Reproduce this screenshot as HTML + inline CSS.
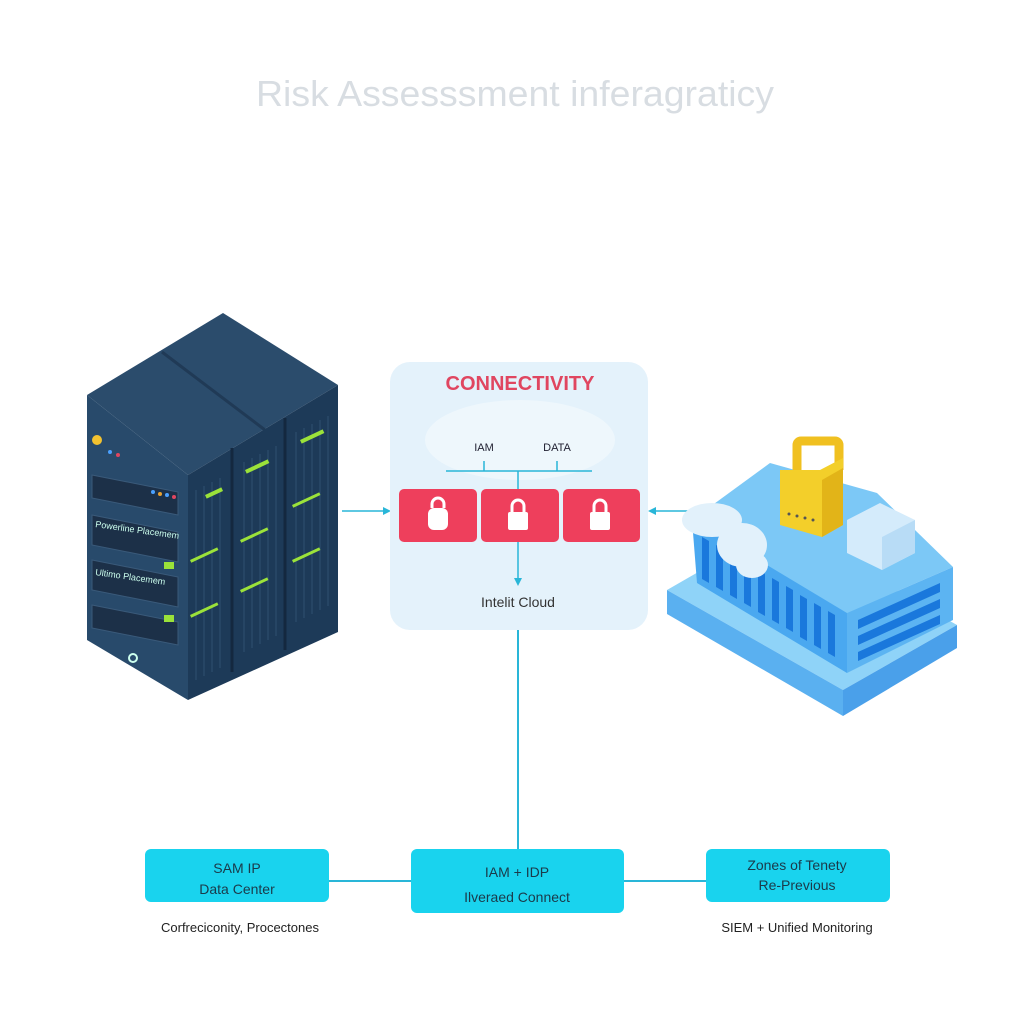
<!DOCTYPE html>
<html><head><style>
body{margin:0;background:#fff;}
svg{display:block;font-family:"Liberation Sans",sans-serif;}
</style></head><body>
<svg width="1024" height="1024" viewBox="0 0 1024 1024">
<rect width="1024" height="1024" fill="#fff"/>
<text x="256" y="106" font-size="36" fill="#d8dde2" textLength="518" lengthAdjust="spacingAndGlyphs">Risk Assesssment inferagraticy</text>

<!-- server rack -->
<polygon points="87,395 223,313 338,385 188,475" fill="#2b4c6c"/>
<line x1="162" y1="352" x2="265" y2="430" stroke="#203a56" stroke-width="3"/>
<polygon points="87,395 188,475 188,700 87,640" fill="#284a6b"/>
<polygon points="188,475 338,385 338,632 188,700" fill="#1d3a58"/>
<line x1="232" y1="448" x2="232" y2="672" stroke="#14283f" stroke-width="3"/>
<line x1="285" y1="418" x2="285" y2="650" stroke="#14283f" stroke-width="3"/>
<g stroke="#2e5070" stroke-width="1">
<path d="M196 490 v190 M204 486 v190 M212 482 v190 M220 478 v190 M244 462 v190 M252 458 v190 M260 454 v190 M268 450 v190 M276 446 v190 M296 432 v190 M304 428 v190 M312 424 v190 M320 420 v190 M328 416 v190"/>
</g>
<g fill="#1c3048" stroke="#3a5a7a">
<polygon points="92,475 178,492 178,515 92,498"/>
<polygon points="92,515 178,532 178,562 92,545"/>
<polygon points="92,560 178,577 178,607 92,590"/>
<polygon points="92,605 178,622 178,645 92,628"/>
</g>
<text x="95" y="527" font-size="9" fill="#cfe" transform="rotate(8 95 527)">Powerline Placemem</text>
<text x="95" y="575" font-size="9" fill="#cfe" transform="rotate(8 95 575)">Ultimo Placemem</text>
<circle cx="97" cy="440" r="5" fill="#f2c230"/>
<circle cx="110" cy="452" r="2" fill="#4aa0ff"/><circle cx="118" cy="455" r="2" fill="#e04660"/>
<circle cx="153" cy="492" r="2" fill="#4aa0ff"/><circle cx="160" cy="494" r="2" fill="#e8a030"/><circle cx="167" cy="495" r="2" fill="#4aa0ff"/><circle cx="174" cy="497" r="2" fill="#e04660"/>
<circle cx="133" cy="658" r="4" fill="none" stroke="#cfe" stroke-width="2"/>
<g fill="#9be23a">
<rect x="205" y="495" width="18" height="4" transform="rotate(-25 205 495)"/>
<rect x="245" y="470" width="25" height="4" transform="rotate(-25 245 470)"/>
<rect x="300" y="440" width="25" height="4" transform="rotate(-25 300 440)"/>
<rect x="190" y="560" width="30" height="3" transform="rotate(-25 190 560)"/>
<rect x="190" y="615" width="30" height="3" transform="rotate(-25 190 615)"/>
<rect x="240" y="540" width="30" height="3" transform="rotate(-25 240 540)"/>
<rect x="240" y="590" width="30" height="3" transform="rotate(-25 240 590)"/>
<rect x="292" y="505" width="30" height="3" transform="rotate(-25 292 505)"/>
<rect x="292" y="560" width="30" height="3" transform="rotate(-25 292 560)"/>
<rect x="164" y="562" width="10" height="7"/><rect x="164" y="615" width="10" height="7"/>
</g>

<!-- arrows to center -->
<line x1="342" y1="511" x2="388" y2="511" stroke="#29b6d8" stroke-width="1.5"/>
<polygon points="391,511 383,507 383,515" fill="#29b6d8"/>
<line x1="690" y1="511" x2="652" y2="511" stroke="#29b6d8" stroke-width="1.5"/>
<polygon points="648,511 656,507 656,515" fill="#29b6d8"/>

<!-- center panel -->
<rect x="390" y="362" width="258" height="268" rx="20" fill="#e4f2fb"/>
<ellipse cx="520" cy="440" rx="95" ry="40" fill="#eef7fc"/>
<text x="520" y="390" text-anchor="middle" font-size="20" font-weight="bold" fill="#e04660">CONNECTIVITY</text>
<text x="484" y="451" text-anchor="middle" font-size="11" fill="#223">IAM</text>
<text x="557" y="451" text-anchor="middle" font-size="11" fill="#223">DATA</text>
<g stroke="#29b6d8" stroke-width="1.5" fill="#29b6d8">
<line x1="446" y1="471" x2="592" y2="471"/>
<line x1="484" y1="471" x2="484" y2="461"/><line x1="557" y1="471" x2="557" y2="461"/>
<line x1="518" y1="471" x2="518" y2="580"/>
<polygon points="518,586 514,578 522,578" stroke="none"/>
</g>
<rect x="399" y="489" width="78" height="53" rx="5" fill="#ee3f5c"/>
<rect x="481" y="489" width="78" height="53" rx="5" fill="#ee3f5c"/>
<rect x="563" y="489" width="77" height="53" rx="5" fill="#ee3f5c"/>
<g fill="#fff">
<rect x="428" y="508" width="20" height="22" rx="6"/>
<rect x="508" y="512" width="20" height="18" rx="2"/><rect x="590" y="512" width="20" height="18" rx="2"/>
</g>
<g fill="none" stroke="#fff" stroke-width="3">
<path d="M432 508 v-4 a6 6 0 0 1 12 0 v4"/>
<path d="M512 512 v-6 a6 6 0 0 1 12 0 v6"/><path d="M594 512 v-6 a6 6 0 0 1 12 0 v6"/>
</g>
<text x="518" y="607" text-anchor="middle" font-size="14" fill="#333">Intelit Cloud</text>

<!-- building -->
<polygon points="667,590 780,525 957,625 843,690" fill="#8fd3f8"/>
<polygon points="667,590 843,690 843,716 667,614" fill="#5ab0f0"/>
<polygon points="843,690 957,625 957,648 843,716" fill="#4aa0ea"/>
<polygon points="692,520 770,463 877,493 953,567 847,613" fill="#7cc8f6"/>
<polygon points="692,520 847,613 847,673 697,583" fill="#4aa8f0"/>
<polygon points="847,613 953,567 953,620 847,673" fill="#5cb4f2"/>
<g fill="#1a78dc">
<polygon points="702,537 709,541 709,583 702,579"/>
<polygon points="716,545 723,549 723,591 716,587"/>
<polygon points="730,553 737,557 737,599 730,595"/>
<polygon points="744,561 751,565 751,607 744,603"/>
<polygon points="758,570 765,574 765,616 758,612"/>
<polygon points="772,578 779,582 779,624 772,620"/>
<polygon points="786,586 793,590 793,632 786,628"/>
<polygon points="800,595 807,599 807,641 800,637"/>
<polygon points="814,603 821,607 821,649 814,645"/>
<polygon points="828,611 835,615 835,657 828,653"/>
</g>
<g fill="#1a78dc">
<polygon points="858,620 940,583 940,592 858,629"/>
<polygon points="858,636 940,599 940,608 858,645"/>
<polygon points="858,652 940,615 940,624 858,661"/>
</g>
<g fill="#e2f1fb">
<ellipse cx="712" cy="520" rx="30" ry="17"/>
<ellipse cx="742" cy="545" rx="25" ry="22"/>
<ellipse cx="752" cy="565" rx="16" ry="13"/>
</g>
<polygon points="847,520 880,503 915,520 915,553 882,570 847,553" fill="#d4ebfb"/>
<polygon points="882,537 915,520 915,553 882,570" fill="#b8dcf6"/>
<path d="M797 470 v-25 a4 4 0 0 1 4 -4 h34 a4 4 0 0 1 4 4 v25" fill="none" stroke="#f0c020" stroke-width="9"/>
<polygon points="780,470 820,470 843,458 843,525 822,537 780,525" fill="#f3cf2a"/>
<polygon points="822,480 843,468 843,525 822,537" fill="#e2b418"/>
<g fill="#555"><circle cx="789" cy="514" r="1.5"/><circle cx="797" cy="516" r="1.5"/><circle cx="805" cy="518" r="1.5"/><circle cx="813" cy="520" r="1.5"/></g>

<line x1="518" y1="630" x2="518" y2="850" stroke="#29b6d8" stroke-width="2"/>
<line x1="328" y1="881" x2="412" y2="881" stroke="#29b6d8" stroke-width="2"/>
<line x1="623" y1="881" x2="706" y2="881" stroke="#29b6d8" stroke-width="2"/>

<rect x="145" y="849" width="184" height="53" rx="6" fill="#19d3ee"/>
<rect x="411" y="849" width="213" height="64" rx="6" fill="#19d3ee"/>
<rect x="706" y="849" width="184" height="53" rx="6" fill="#19d3ee"/>
<g font-size="14" fill="#1b3a4a" text-anchor="middle">
<text x="237" y="873">SAM IP</text><text x="237" y="894">Data Center</text>
<text x="517" y="877">IAM + IDP</text><text x="517" y="902">Ilveraed Connect</text>
<text x="797" y="870">Zones of Tenety</text><text x="797" y="890">Re-Previous</text>
</g>
<g font-size="13" fill="#222" text-anchor="middle">
<text x="240" y="932">Corfreciconity, Procectones</text>
<text x="797" y="932">SIEM + Unified Monitoring</text>
</g>
</svg>
</body></html>
